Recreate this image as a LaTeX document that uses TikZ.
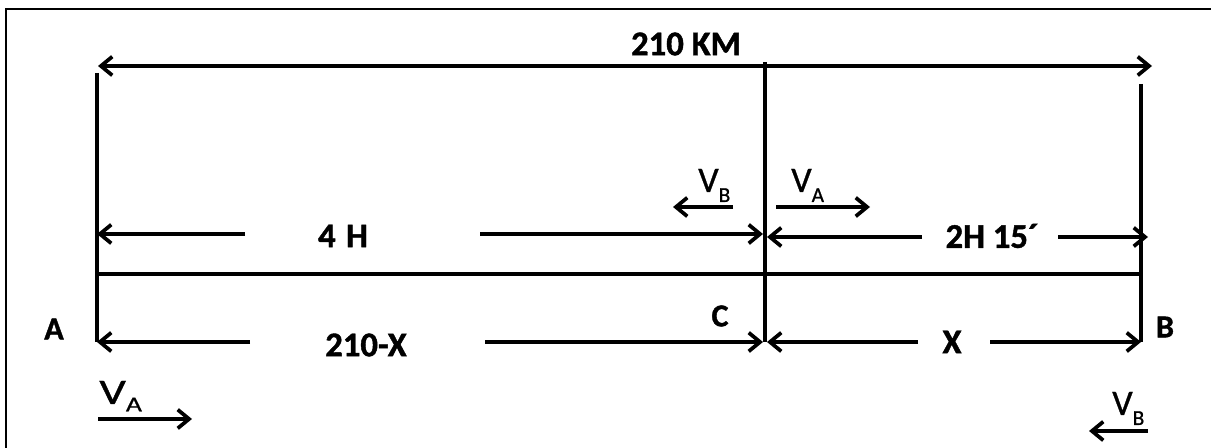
\documentclass[tikz,border=0pt]{standalone}
\usepackage{fontspec}
\setmainfont{Carlito}
\newfontface\heavyfont{Carlito Bold}[FakeBold=1.2]
\newfontface\vfont{Carlito}[FakeBold=0.8]
\usetikzlibrary{arrows.meta}
\begin{document}
\begin{tikzpicture}[x=0.75pt,y=-0.75pt,
  frame/.style={line width=1.4pt},
  post/.style={line width=3.3pt},
  thin/.style={line width=2.4pt},
  tipb/.tip={Straight Barb[length=8.5pt,width=14pt,line width=2.8pt]},
  arr/.style={line width=3.2pt,-tipb},
  blbl/.style={inner sep=0pt,font=\heavyfont\fontsize{26}{26}\selectfont},
  slbl/.style={inner sep=0pt,font=\heavyfont\fontsize{24}{24}\selectfont},
  vlbl/.style={inner sep=0pt,anchor=base west,font=\vfont\fontsize{27}{27}\selectfont}]
\useasboundingbox (0,0) rectangle (1211,448);
% frame (cropped at right and bottom)
\draw[frame] (6,470) -- (6,9) -- (1230,9);
% posts
\coordinate (Atop) at (97,73);   \coordinate (Abot) at (97,342);
\coordinate (Ctop) at (765,62);  \coordinate (Cbot) at (765,342);
\coordinate (Btop) at (1141,84); \coordinate (Bbot) at (1141,342);
\draw[post] (Atop) -- (Abot);
\draw[post] (Ctop) -- (Cbot);
\draw[post] (Btop) -- (Bbot);
% road line
\coordinate (RL) at (97,274); \coordinate (RR) at (1141,274);
\draw[thin] (RL) -- (RR);
% top 210 KM
\coordinate (T1) at (98,66); \coordinate (T2) at (1152,66);
\draw[line width=3.2pt,tipb-tipb] (T1) -- (T2);
\node[blbl] (km) at (686,44) {210 KM};
% 4 H
\coordinate (H4a) at (245,234); \coordinate (H4b) at (97,234);
\coordinate (H4c) at (480,234); \coordinate (H4d) at (763,234);
\draw[arr] (H4a) -- (H4b);
\draw[arr] (H4c) -- (H4d);
\node[blbl] (h4) at (343,236) {4\hspace{0.3em}H};
% 2H 15
\coordinate (H2a) at (922,237); \coordinate (H2b) at (767,237);
\coordinate (H2c) at (1058,237); \coordinate (H2d) at (1148,237);
\draw[arr] (H2a) -- (H2b);
\draw[arr] (H2c) -- (H2d);
\node[blbl] (h2) at (992,236) {2H 15´};
% 210-X
\coordinate (Xa) at (250,342); \coordinate (Xb) at (97,342);
\coordinate (Xc) at (485,342); \coordinate (Xd) at (763,342);
\draw[arr] (Xa) -- (Xb);
\draw[arr] (Xc) -- (Xd);
\node[blbl] (dx) at (366,345) {210-X};
% X
\coordinate (Ya) at (918,342); \coordinate (Yb) at (767,342);
\coordinate (Yc) at (990,342); \coordinate (Yd) at (1141,342);
\draw[arr] (Ya) -- (Yb);
\draw[arr] (Yc) -- (Yd);
\node[blbl] (x) at (952,342) {X};
% point labels
\node[slbl] (A) at (54,329) {A};
\node[slbl] (C) at (720,316) {C};
\node[slbl] (B) at (1165,327) {B};
% velocity arrows
\coordinate (vb1) at (733,207); \coordinate (vb2) at (673,207);
\draw[arr] (vb1) -- (vb2);
\node[vlbl] (vbt) at (698,192) {V\raisebox{-7.5pt}{\fontsize{16}{16}\selectfont B}};
\coordinate (va1) at (776,207); \coordinate (va2) at (870,207);
\draw[arr] (va1) -- (va2);
\node[vlbl] (vat) at (791,192) {V\raisebox{-7.5pt}{\fontsize{16}{16}\selectfont A}};
\coordinate (va3) at (98,419); \coordinate (va4) at (192,419);
\draw[arr] (va3) -- (va4);
\node[vlbl,xscale=1.3] (vab) at (99,404) {V\raisebox{-5.5pt}{\fontsize{16}{16}\selectfont A}};
\coordinate (vb3) at (1148,431); \coordinate (vb4) at (1089,431);
\draw[arr] (vb3) -- (vb4);
\node[vlbl] (vbb) at (1112,415) {V\raisebox{-7.5pt}{\fontsize{16}{16}\selectfont B}};
\end{tikzpicture}
\end{document}
